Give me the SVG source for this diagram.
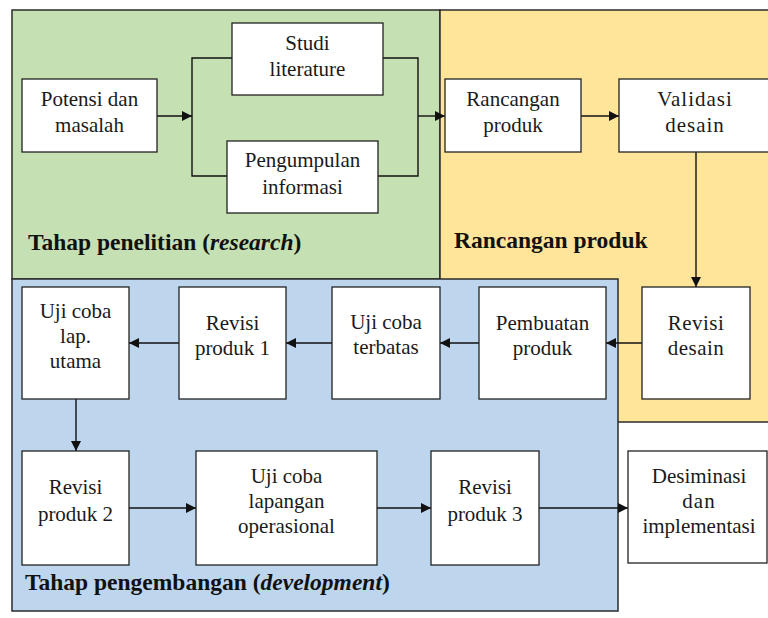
<svg xmlns="http://www.w3.org/2000/svg" width="768" height="618" viewBox="0 0 768 618">
<style>
.region{stroke:#2b2b2b;stroke-width:1.5}
.box{fill:#fff;stroke:#222;stroke-width:1.3}
.t{font-family:'Liberation Serif','DejaVu Serif',serif;font-size:21px;fill:#1a1a1a;text-anchor:middle}
.lbl{font-family:'Liberation Serif','DejaVu Serif',serif;font-size:23.5px;font-weight:bold;fill:#111}
.c{fill:none;stroke:#111;stroke-width:1.4}
</style>
<defs>
<marker id="ah" markerWidth="10" markerHeight="10" viewBox="0 0 10 10" refX="10" refY="5" orient="auto" markerUnits="userSpaceOnUse">
<path d="M0,0 L10,5 L0,10 Z" fill="#111"/>
</marker>
</defs>
<rect width="768" height="618" fill="#fff"/>
<g id="regions">
<rect class="region" x="12" y="10" width="428" height="269" fill="#C5E0B3"/>
<rect class="region" x="440" y="10" width="332" height="412" fill="#FFE599"/>
<rect class="region" x="12" y="279" width="606" height="332" fill="#BDD6EE"/>
<text class="lbl" x="28" y="250">Tahap penelitian (<tspan font-style="italic">research</tspan>)</text>
<text class="lbl" x="454" y="248">Rancangan produk</text>
<text class="lbl" x="25" y="590">Tahap pengembangan (<tspan font-style="italic">development</tspan>)</text>
</g>
<g id="connectors">
<line class="c" x1="157" y1="116" x2="192" y2="116" marker-end="url(#ah)"/>
<polyline class="c" points="232,58 192,58 192,176 227,176"/>
<polyline class="c" points="383,58 418,58 418,176 378,176"/>
<line class="c" x1="418" y1="116" x2="445" y2="116" marker-end="url(#ah)"/>
<line class="c" x1="581" y1="116" x2="619" y2="116" marker-end="url(#ah)"/>
<line class="c" x1="696" y1="152" x2="696" y2="287" marker-end="url(#ah)"/>
<line class="c" x1="642" y1="343" x2="606" y2="343" marker-end="url(#ah)"/>
<line class="c" x1="479" y1="343" x2="440" y2="343" marker-end="url(#ah)"/>
<line class="c" x1="332" y1="343" x2="286" y2="343" marker-end="url(#ah)"/>
<line class="c" x1="179" y1="343" x2="129" y2="343" marker-end="url(#ah)"/>
<line class="c" x1="76" y1="399" x2="76" y2="451" marker-end="url(#ah)"/>
<line class="c" x1="129" y1="508" x2="196" y2="508" marker-end="url(#ah)"/>
<line class="c" x1="377" y1="508" x2="431" y2="508" marker-end="url(#ah)"/>
<line class="c" x1="539" y1="508" x2="628" y2="508" marker-end="url(#ah)"/>
</g>
<g id="potensi">
<rect class="box" x="22" y="79" width="135" height="73"/>
<text class="t" x="89.5" y="106">Potensi dan</text>
<text class="t" x="89.5" y="132">masalah</text>
</g>
<g id="studi">
<rect class="box" x="232" y="23" width="151" height="72"/>
<text class="t" x="307.5" y="50">Studi</text>
<text class="t" x="307.5" y="76">literature</text>
</g>
<g id="pengumpulan">
<rect class="box" x="227" y="141" width="151" height="72"/>
<text class="t" x="302.5" y="167">Pengumpulan</text>
<text class="t" x="302.5" y="194">informasi</text>
</g>
<g id="rancangan">
<rect class="box" x="445" y="79" width="136" height="73"/>
<text class="t" x="513" y="106">Rancangan</text>
<text class="t" x="513" y="132">produk</text>
</g>
<g id="validasi">
<rect class="box" x="619" y="79" width="152" height="73"/>
<text class="t" x="695" y="106" letter-spacing="1">Validasi</text>
<text class="t" x="695" y="132" letter-spacing="1">desain</text>
</g>
<g id="revisi-desain">
<rect class="box" x="642" y="287" width="108" height="112"/>
<text class="t" x="696" y="330" letter-spacing="0.5">Revisi</text>
<text class="t" x="696" y="355" letter-spacing="0.5">desain</text>
</g>
<g id="pembuatan">
<rect class="box" x="479" y="287" width="127" height="112"/>
<text class="t" x="542.5" y="330">Pembuatan</text>
<text class="t" x="542.5" y="355">produk</text>
</g>
<g id="uji-terbatas">
<rect class="box" x="332" y="287" width="108" height="112"/>
<text class="t" x="386" y="329">Uji coba</text>
<text class="t" x="386" y="354">terbatas</text>
</g>
<g id="revisi1">
<rect class="box" x="179" y="287" width="107" height="112"/>
<text class="t" x="232.5" y="330">Revisi</text>
<text class="t" x="232.5" y="355">produk 1</text>
</g>
<g id="uji-utama">
<rect class="box" x="22" y="287" width="107" height="112"/>
<text class="t" x="75.5" y="318">Uji coba</text>
<text class="t" x="75.5" y="343">lap.</text>
<text class="t" x="75.5" y="368">utama</text>
</g>
<g id="revisi2">
<rect class="box" x="22" y="451" width="107" height="114"/>
<text class="t" x="75.5" y="494">Revisi</text>
<text class="t" x="75.5" y="521">produk 2</text>
</g>
<g id="uji-operasional">
<rect class="box" x="196" y="451" width="181" height="114"/>
<text class="t" x="286.5" y="483">Uji coba</text>
<text class="t" x="286.5" y="508">lapangan</text>
<text class="t" x="286.5" y="533">operasional</text>
</g>
<g id="revisi3">
<rect class="box" x="431" y="451" width="108" height="114"/>
<text class="t" x="485" y="494">Revisi</text>
<text class="t" x="485" y="521">produk 3</text>
</g>
<g id="desiminasi">
<rect class="box" x="628" y="451" width="139" height="112"/>
<text class="t" x="699" y="483">Desiminasi</text>
<text class="t" x="699" y="508" letter-spacing="1">dan</text>
<text class="t" x="699" y="533">implementasi</text>
</g>
</svg>
